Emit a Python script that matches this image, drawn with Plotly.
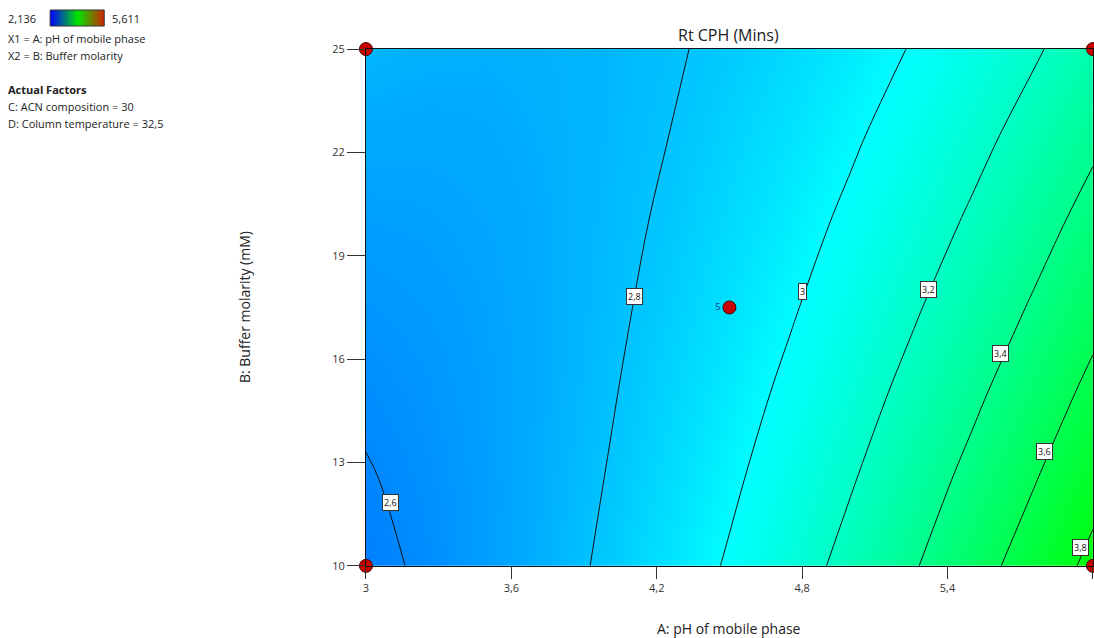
import plotly.graph_objects as go

W, H = 1094, 638

# ---- data ----
ph = [3.0, 3.25, 3.5, 3.75, 4.0, 4.25, 4.5, 4.75, 5.0, 5.25, 5.5, 5.75, 6.0]   # A: pH
molarity = [10.0, 12.5, 15.0, 17.5, 20.0, 22.5, 25.0]                          # B (mM)
# Rt CPH (min); one row per molarity value, one column per pH value
rt = [
    [2.569, 2.617, 2.675, 2.744, 2.824, 2.914, 3.015, 3.126, 3.249, 3.381, 3.525, 3.679, 3.843],
    [2.592, 2.629, 2.677, 2.736, 2.805, 2.885, 2.975, 3.077, 3.188, 3.311, 3.444, 3.587, 3.742],
    [2.617, 2.644, 2.682, 2.730, 2.789, 2.859, 2.939, 3.030, 3.131, 3.243, 3.366, 3.499, 3.643],
    [2.646, 2.663, 2.690, 2.728, 2.776, 2.836, 2.906, 2.986, 3.077, 3.179, 3.291, 3.414, 3.548],
    [2.678, 2.685, 2.702, 2.729, 2.768, 2.816, 2.876, 2.946, 3.027, 3.118, 3.220, 3.333, 3.456],
    [2.714, 2.710, 2.717, 2.734, 2.762, 2.800, 2.850, 2.909, 2.980, 3.061, 3.153, 3.255, 3.368],
    [2.752, 2.738, 2.734, 2.741, 2.759, 2.787, 2.826, 2.876, 2.936, 3.006, 3.088, 3.180, 3.282],
]
rt_min, rt_max = 2.136, 5.611

contour_start, contour_end, contour_step = 2.6, 3.8, 0.2
label_x = [3.10, 4.11, 4.80, 5.32, 5.62, 5.80, 5.95]
label_y = [11.83, 17.82, 17.97, 18.02, 16.16, 13.31, 10.52]
label_text = ["2,6", "2,8", "3", "3,2", "3,4", "3,6", "3,8"]

design_x = [3, 3, 6, 6, 4.5]
design_y = [10, 25, 10, 25, 17.5]
design_text = ["", "", "", "", "5"]

x_ticks = [3, 3.6, 4.2, 4.8, 5.4, 6]
x_ticktext = ["3", "3,6", "4,2", "4,8", "5,4", "6"]
y_ticks = [10, 13, 16, 19, 22, 25]
y_ticktext = ["10", "13", "16", "19", "22", "25"]

info_lines = ["X1 = A: pH of mobile phase", "X2 = B: Buffer molarity"]
factor_lines = ["C: ACN composition = 30", "D: Column temperature = 32,5"]

# ---- styling ----
cscale = [[0.0, "rgb(0,0,255)"], [0.25, "rgb(0,255,255)"], [0.5, "rgb(0,255,0)"],
          [0.75, "rgb(255,255,0)"], [1.0, "rgb(255,0,0)"]]
legend_scale = [[0.0, "rgb(0,0,255)"], [0.5, "rgb(0,230,0)"], [1.0, "rgb(215,30,0)"]]
FONT = "Open Sans, Noto Sans, DejaVu Sans, sans-serif"


def px_x(p):
    return ((p - 5) / 0.9946) / W


def px_y(p):
    return 1 - ((p - 8) / 0.975) / H


fig = go.Figure()

fig.add_trace(go.Contour(
    x=ph, y=molarity, z=rt,
    colorscale=cscale, zauto=False, zmin=rt_min, zmax=rt_max,
    showscale=False,
    contours=dict(start=contour_start, end=contour_end, size=contour_step,
                  coloring="heatmap", showlabels=False),
    line=dict(color="#111111", width=1, smoothing=1),
    hoverinfo="skip",
))

fig.add_trace(go.Scatter(
    x=design_x, y=design_y, mode="markers+text",
    text=design_text, textposition="middle left",
    textfont=dict(size=9, color="#1a3a8a", family=FONT),
    marker=dict(size=13, color="#c80000", line=dict(color="#4a0000", width=1)),
    cliponaxis=False, hoverinfo="skip", showlegend=False,
))

# small colour legend (top-left)
fig.add_trace(go.Heatmap(
    x=[0, 1], y=[0, 1], z=[[rt_min, rt_max], [rt_min, rt_max]],
    colorscale=legend_scale, zmin=rt_min, zmax=rt_max, zsmooth="best",
    showscale=False, xaxis="x2", yaxis="y2", hoverinfo="skip",
))

x0, x1 = px_x(367), min(1.0, px_x(1092))
y0, y1 = px_y(565), px_y(49)

annotations = []
for lx, ly, lt in zip(label_x, label_y, label_text):
    annotations.append(dict(
        x=lx, y=ly, xref="x", yref="y", text=lt, showarrow=False,
        font=dict(size=9, color="#111111", family=FONT),
        bgcolor="white", bordercolor="#333333", borderwidth=1, borderpad=1,
    ))

small = dict(size=11, color="#222222", family=FONT)
annotations.append(dict(x=px_x(8), y=px_y(18), xref="paper", yref="paper",
                        text="2,136", showarrow=False, xanchor="left",
                        yanchor="middle", font=small))
annotations.append(dict(x=px_x(112), y=px_y(18), xref="paper", yref="paper",
                        text="5,611", showarrow=False, xanchor="left",
                        yanchor="middle", font=small))
for i, t in enumerate(info_lines):
    annotations.append(dict(x=px_x(8), y=px_y(38 + 17 * i), xref="paper",
                            yref="paper", text=t, showarrow=False,
                            xanchor="left", yanchor="middle", font=small))
annotations.append(dict(x=px_x(8), y=px_y(89), xref="paper", yref="paper",
                        text="<b>Actual Factors</b>", showarrow=False,
                        xanchor="left", yanchor="middle", font=small))
for i, t in enumerate(factor_lines):
    annotations.append(dict(x=px_x(8), y=px_y(106 + 17 * i), xref="paper",
                            yref="paper", text=t, showarrow=False,
                            xanchor="left", yanchor="middle", font=small))
annotations.append(dict(x=px_x(729), y=px_y(628), xref="paper", yref="paper",
                        text="A: pH of mobile phase", showarrow=False,
                        xanchor="center", yanchor="middle",
                        font=dict(size=14, color="#222222", family=FONT)))
annotations.append(dict(x=px_x(246), y=px_y(307), xref="paper", yref="paper",
                        text="B: Buffer molarity (mM)", showarrow=False,
                        textangle=-90, xanchor="center", yanchor="middle",
                        font=dict(size=14, color="#222222",
                                  family="Liberation Sans Narrow, " + FONT)))
annotations.append(dict(x=px_x(729), y=px_y(35), xref="paper", yref="paper",
                        text="Rt CPH (Mins)", showarrow=False,
                        xanchor="center", yanchor="middle",
                        font=dict(size=16, color="#222222", family=FONT)))

fig.update_layout(
    width=W, height=H,
    margin=dict(l=0, r=0, t=0, b=0),
    paper_bgcolor="white", plot_bgcolor="white",
    showlegend=False,
    font=dict(family=FONT),
    xaxis=dict(domain=[x0, x1], range=[3, 6], tickvals=x_ticks,
               ticktext=x_ticktext, ticks="outside", ticklen=12,
               tickcolor="#333333", showline=True, linecolor="#111111",
               linewidth=1, mirror=True, showgrid=False, zeroline=False,
               tickfont=dict(size=11, color="#333333", family=FONT)),
    yaxis=dict(domain=[y0, y1], range=[10, 25], tickvals=y_ticks,
               ticktext=y_ticktext, ticks="outside", ticklen=18,
               tickcolor="#333333", showline=True, linecolor="#111111",
               linewidth=1, mirror=True, showgrid=False, zeroline=False,
               tickfont=dict(size=11, color="#333333", family=FONT)),
    xaxis2=dict(domain=[px_x(52), px_x(106)], range=[0, 1], visible=False,
                anchor="y2", fixedrange=True),
    yaxis2=dict(domain=[px_y(26), px_y(10)], range=[0, 1], visible=False,
                anchor="x2", fixedrange=True),
    shapes=[dict(type="rect", xref="x2 domain", yref="y2 domain",
                 x0=0, x1=1, y0=0, y1=1, line=dict(color="#333333", width=1))],
    annotations=annotations,
)

fig.write_html("out.html")
